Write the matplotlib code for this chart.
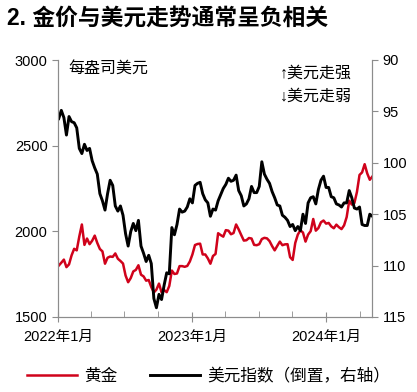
import matplotlib
matplotlib.use("Agg")
import matplotlib.pyplot as plt
import matplotlib.dates as mdates
import pandas as pd
import numpy as np

# weekly observations, Jan 2022 - May 2024
start_date = "2022-01-03"
gold = [
    # 2022
    1800, 1817, 1835, 1791, 1807, 1860, 1898, 1889, 1970, 2040, 1921, 1958,
    1925, 1945, 1975, 1932, 1897, 1883, 1811, 1846, 1853, 1851, 1871, 1840,
    1827, 1812, 1742, 1703, 1727, 1766, 1775, 1802, 1747, 1737, 1712, 1716,
    1675, 1643, 1660, 1695, 1644, 1657, 1645, 1681, 1771, 1751, 1754, 1797,
    1797, 1793, 1798, 1824,
    # 2023
    1865, 1920, 1926, 1928, 1865, 1865, 1842, 1811, 1856, 1868, 1989, 1978,
    1969, 2007, 2004, 1983, 1990, 2040, 2011, 1978, 1946, 1948, 1961, 1958,
    1921, 1919, 1925, 1955, 1962, 1959, 1943, 1914, 1889, 1915, 1940, 1919,
    1924, 1925, 1849, 1833, 1932, 1981, 2006, 1993, 1940, 1981, 2001, 2072,
    2004, 2019, 2053, 2063,
    # 2024
    2045, 2049, 2029, 2018, 2039, 2024, 2013, 2035, 2083, 2179, 2156, 2165,
    2230, 2329, 2344, 2392, 2338, 2301, 2320,
]
dxy = [
    # 2022
    95.7, 94.9, 95.6, 97.3, 95.5, 96.0, 96.1, 96.6, 98.6, 99.1, 98.2, 98.8,
    98.6, 99.8, 100.5, 101.1, 103.0, 103.7, 104.6, 103.0, 101.7, 102.2, 104.2, 104.7,
    104.2, 105.1, 106.9, 108.1, 106.7, 105.9, 106.6, 105.6, 108.1, 108.8, 109.6, 109.0,
    109.8, 113.2, 114.1, 112.8, 113.3, 111.9, 110.7, 110.8, 106.3, 107.0, 106.0, 104.5,
    104.8, 104.7, 104.3, 103.5,
    # 2023
    103.9, 102.2, 102.0, 101.9, 103.0, 103.6, 103.9, 105.2, 104.5, 104.6, 103.7, 103.1,
    102.5, 102.1, 101.5, 101.8, 101.7, 101.2, 102.7, 103.2, 104.2, 104.0, 103.5, 102.3,
    102.9, 102.9, 102.3, 99.9, 101.1, 101.6, 102.0, 102.8, 103.4, 104.1, 104.2, 105.1,
    105.3, 105.6, 106.2, 106.0, 106.6, 106.2, 106.6, 105.0, 105.9, 103.9, 103.4, 103.3,
    104.0, 102.6, 101.7, 101.3,
    # 2024
    102.4, 102.4, 103.3, 103.4, 104.0, 104.1, 104.3, 103.9, 103.9, 102.7, 103.4, 104.4,
    104.5, 104.3, 106.0, 106.1, 106.1, 105.0, 105.2,
]
dates = pd.date_range(start_date, periods=len(gold), freq="7D")

left_ticks = [1500, 2000, 2500, 3000]
right_ticks = [90, 95, 100, 105, 110, 115]
x_major = ["2022-01-01", "2023-01-01", "2024-01-01"]
x_major_labels = ["2022年1月", "2023年1月", "2024年1月"]

fam = ["Liberation Sans", "Noto Sans CJK SC", "DejaVu Sans"]
plt.rcParams["font.family"] = fam

RED = "#d0021b"
GRAY = "#8c8c8c"

fig = plt.figure(figsize=(4.17, 3.92), dpi=100)
ax = fig.add_axes([58 / 417, 1 - 317 / 392, (372 - 58) / 417, (317 - 60) / 392])
ax2 = ax.twinx()

l1, = ax.plot(dates, gold, color=RED, lw=1.8, label="黄金")
l2, = ax2.plot(dates, dxy, color="black", lw=2.1, label="美元指数（倒置，右轴）")

ax.set_ylim(1500, 3000)
ax.set_yticks(left_ticks)
ax2.set_ylim(115, 90)
ax2.set_yticks(right_ticks)
ax.set_xlim(pd.Timestamp("2022-01-01"), pd.Timestamp("2024-05-05"))
ax.set_xticks(pd.to_datetime(x_major))
ax.set_xticklabels(x_major_labels)
ax.xaxis.set_minor_locator(mdates.MonthLocator(bymonth=[1, 4, 7, 10]))

for a in (ax, ax2):
    a.spines["top"].set_visible(False)
    for s in ("left", "right", "bottom"):
        a.spines[s].set_color(GRAY)
        a.spines[s].set_linewidth(0.8)
    a.tick_params(colors="black", labelsize=10.5, width=0.8)
    a.tick_params(axis="both", which="both", color=GRAY)
ax.tick_params(axis="y", direction="out", length=4)
ax2.tick_params(axis="y", direction="out", length=4)
ax.tick_params(axis="x", which="major", direction="inout", length=7, pad=6)
ax.tick_params(axis="x", which="minor", direction="in", length=4)

fig.text(7 / 417, 1 - 18 / 392, "2. 金价与美元走势通常呈负相关", fontsize=16.4,
         fontweight="bold", va="center", ha="left", family=fam)
ax.text(68 / 417, 1 - 68 / 392, "每盎司美元", transform=fig.transFigure,
        fontsize=11.5, va="center", ha="left")
ax.text(280 / 417, 1 - 73 / 392, "↑美元走强", transform=fig.transFigure,
        fontsize=11.5, va="center", ha="left")
ax.text(280 / 417, 1 - 96 / 392, "↓美元走弱", transform=fig.transFigure,
        fontsize=11.5, va="center", ha="left")

fig.legend(handles=[l1, l2], loc="center", bbox_to_anchor=(0.5, 1 - 376 / 392),
           ncol=2, frameon=False, fontsize=12, handlelength=3.0,
           columnspacing=2.0, handletextpad=0.4)

fig.savefig("out.png", dpi=100)
